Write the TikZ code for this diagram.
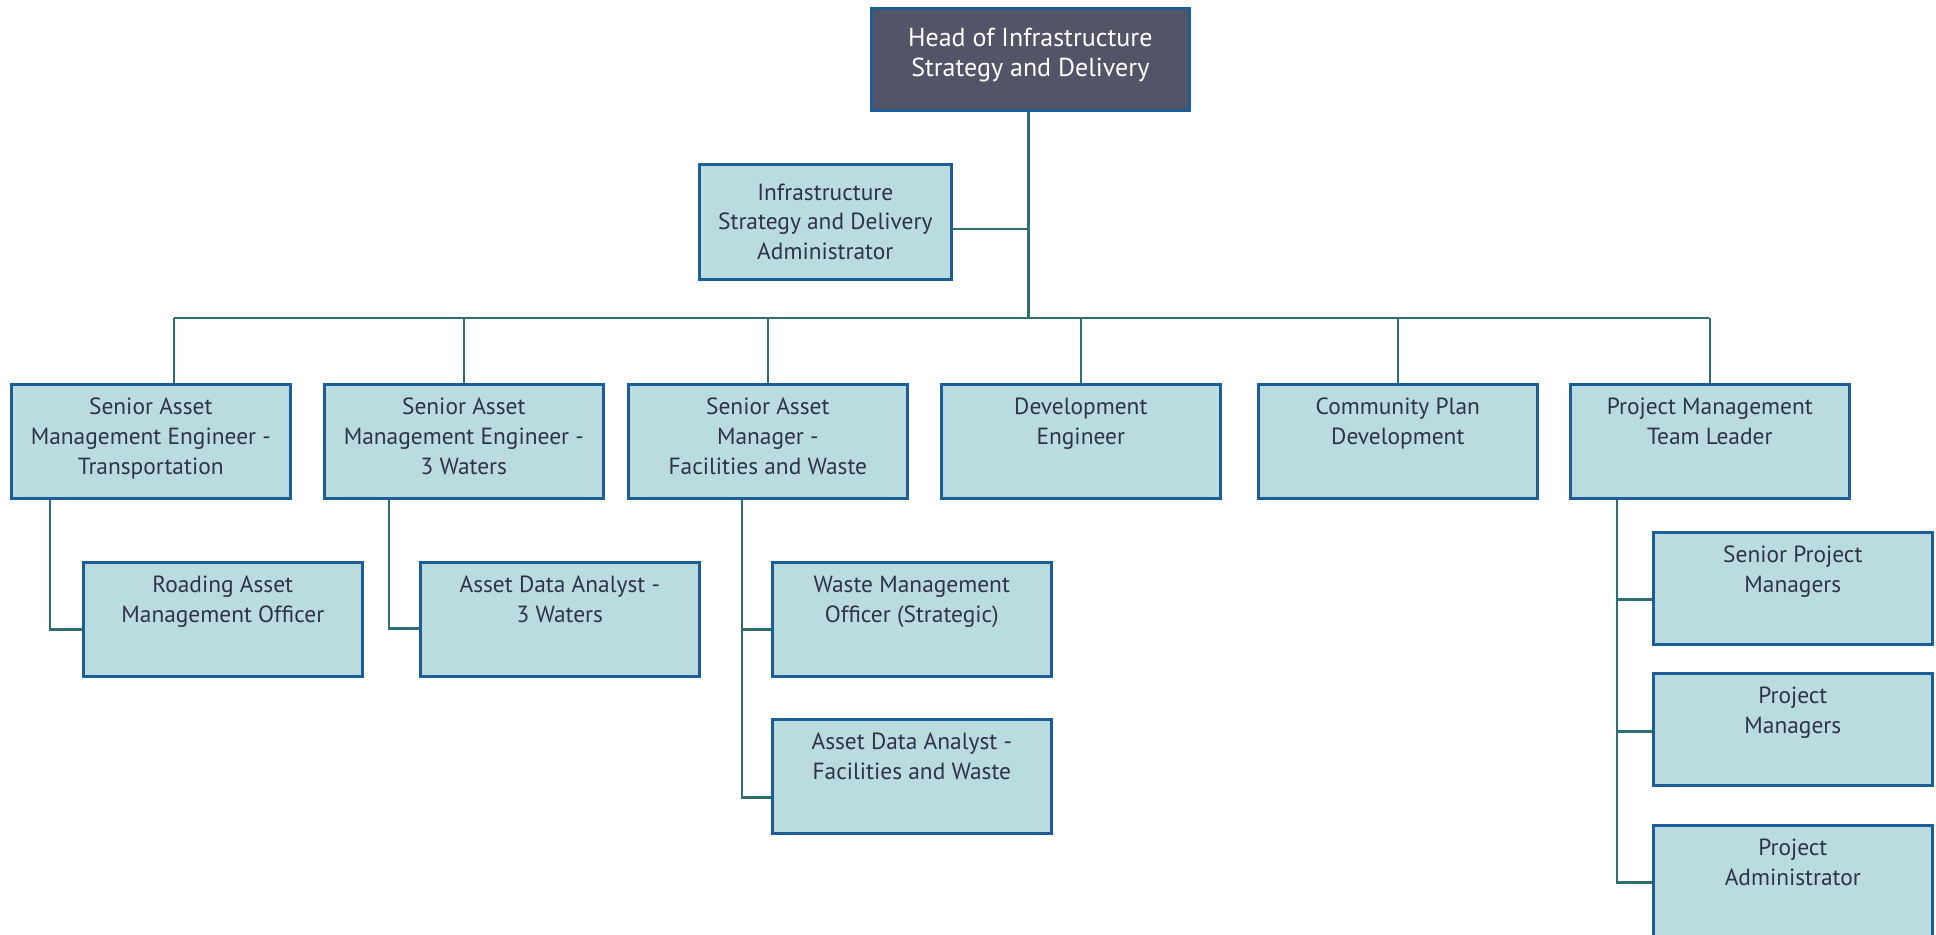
\documentclass[tikz,border=0pt]{standalone}
\usepackage{fontspec}
\setmainfont{PT Sans}
\usetikzlibrary{positioning}

\definecolor{headfill}{HTML}{545468}
\definecolor{boxfill}{HTML}{BADCDF}
\definecolor{boxline}{HTML}{1B5E98}
\definecolor{linkline}{HTML}{2F6F72}
\definecolor{roletext}{HTML}{2E3446}

% box text, top aligned
\newcommand{\post}[2][57pt]{\parbox[c][#1][t]{139.5pt}{\centering\vspace*{7pt}#2}}

\tikzset{
  role/.style={draw=boxline, fill=boxfill, line width=1.3pt, inner sep=0pt,
    anchor=north west, text=roletext, font=\fontsize{11.7}{14.8}\selectfont},
  headrole/.style={role, fill=headfill, text=white, font=\fontsize{13}{14.8}\selectfont},
  link/.style={draw=linkline, line width=1.3pt},
}

\begin{document}
\begin{tikzpicture}[x=0.5pt, y=-0.5pt]
  \useasboundingbox (0,0) rectangle (1936,934);

  % top
  \node[headrole] (head) at (870,7)
    {\parbox[c][51pt][t]{159pt}{\centering\vspace*{10pt}Head of Infrastructure\\Strategy and Delivery}};
  \node[role] (admin) at (698,163)
    {\parbox[c][57.5pt][c]{126pt}{\centering Infrastructure\\Strategy and Delivery\\Administrator}};

  % managers
  \node[role] (samTrans) at (10,383) {\post{Senior Asset\\Management Engineer -\\Transportation}};
  \node[role] (samWater) at (323,383) {\post{Senior Asset\\Management Engineer -\\3 Waters}};
  \node[role] (samFac) at (627,383) {\post{Senior Asset\\Manager -\\Facilities and Waste}};
  \node[role] (devEng) at (940,383) {\post{Development\\Engineer}};
  \node[role] (commPlan) at (1257,383) {\post{Community Plan\\Development}};
  \node[role] (pmLead) at (1569,383) {\post{Project Management\\Team Leader}};

  % staff
  \node[role] (roadOff) at (82,561) {\post{Roading Asset\\Management Officer}};
  \node[role] (dataWater) at (419,561) {\post{Asset Data Analyst -\\3 Waters}};
  \node[role] (wasteOff) at (771,561) {\post{Waste Management\\Officer (Strategic)}};
  \node[role] (dataFac) at (771,718) {\post{Asset Data Analyst -\\Facilities and Waste}};
  \node[role] (seniorPM) at (1652,531) {\post[56pt]{Senior Project\\Managers}};
  \node[role] (projPM) at (1652,672) {\post[56pt]{Project\\Managers}};
  \node[role] (projAdmin) at (1652,824) {\post[57pt]{Project\\Administrator}};

  % bus
  \coordinate (busL) at (174,318);
  \coordinate (busR) at (1709,318);
  \draw[link] (busL) -- (busR);
  \draw[link] ([xshift=-1pt]head.south) -- ([xshift=-1pt]head.south |- busL);
  \draw[link] ([yshift=-3.5pt]admin.east) -- ([xshift=-1pt,yshift=-3.5pt]admin.east -| head.south);

  \draw[link] (busL) -- (busL |- samTrans.north);
  \foreach \n in {samWater,samFac,devEng,commPlan,pmLead}
    \draw[link] (\n.north) -- (\n.north |- busL);

  % reports
  \draw[link] ([xshift=20pt]samTrans.south west) |- ([yshift=-5pt]roadOff.west);
  \draw[link] ([xshift=33pt]samWater.south west) |- ([yshift=-4.5pt]dataWater.west);
  \draw[link] ([xshift=57.5pt]samFac.south west) |- ([yshift=-5pt]wasteOff.west);
  \draw[link] ([xshift=57.5pt]samFac.south west) |- ([yshift=-10.5pt]dataFac.west);
  \draw[link] ([xshift=24pt]pmLead.south west) |- ([yshift=-5.5pt]seniorPM.west);
  \draw[link] ([xshift=24pt]pmLead.south west) |- ([yshift=-1pt]projPM.west);
  \draw[link] ([xshift=24pt]pmLead.south west) |- ([yshift=0pt]projAdmin.west);
\end{tikzpicture}
\end{document}
